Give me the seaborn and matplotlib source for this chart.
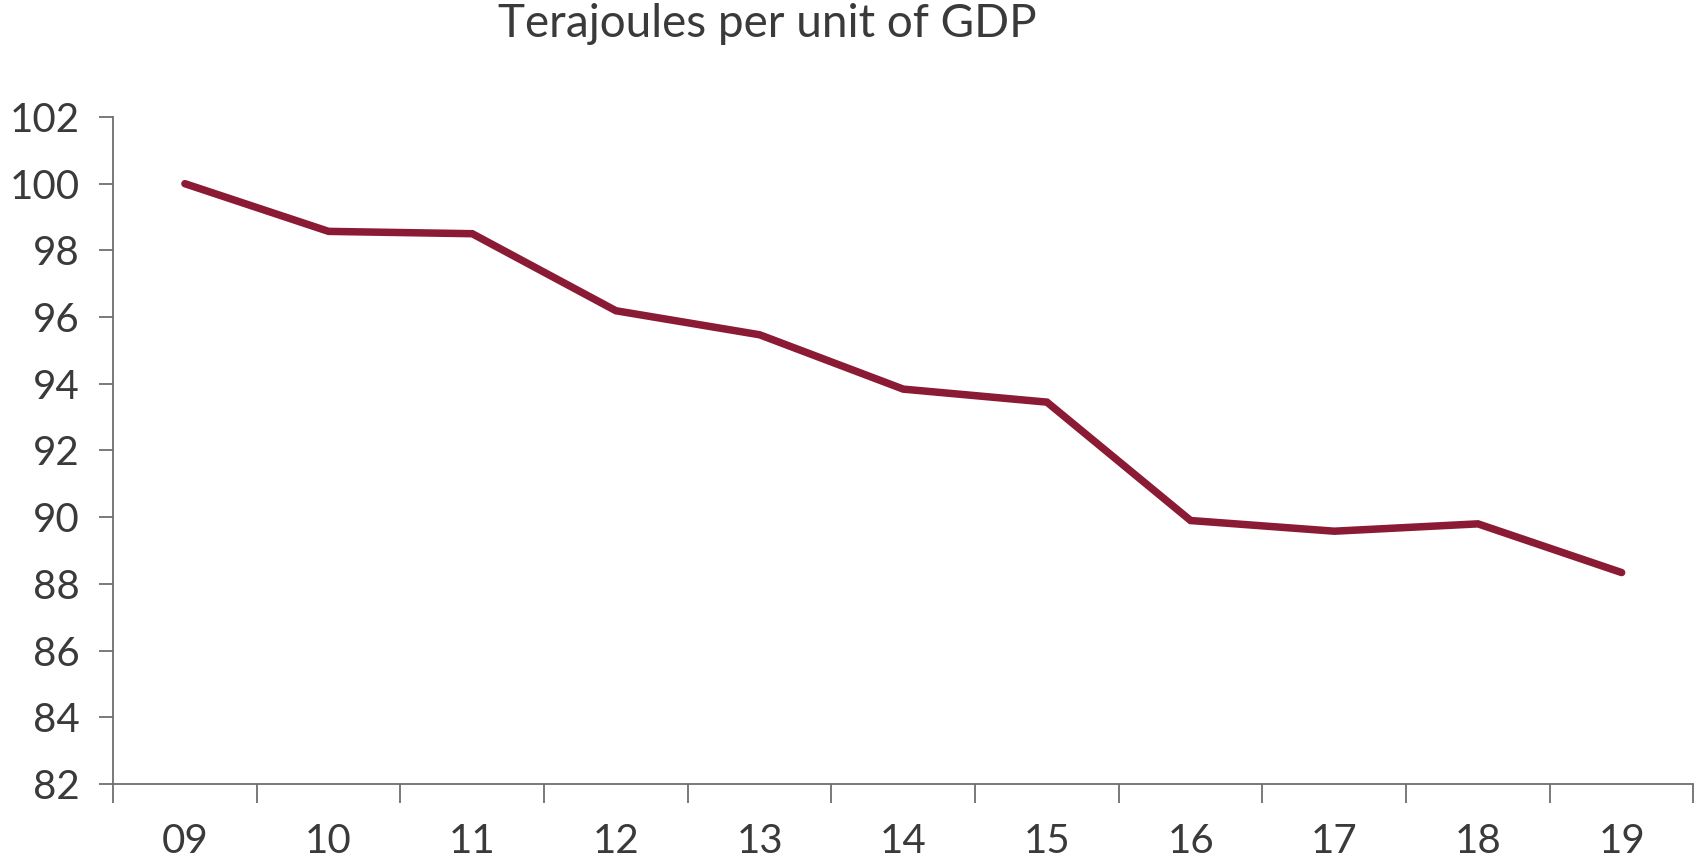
import numpy as np
import pandas as pd
import matplotlib
matplotlib.use("Agg")
import matplotlib.pyplot as plt
import seaborn as sns

years = ["09", "10", "11", "12", "13", "14", "15", "16", "17", "18", "19"]
values = [100.0, 98.57, 98.5, 96.19, 95.47, 93.84, 93.45, 89.9, 89.58, 89.8, 88.34]

title = "Terajoules per unit of GDP"
line_color = "#8B1A35"
text_color = "#3a3a3a"
axis_color = "#6e6e6e"

sns.set_style("white")
plt.rcParams["font.family"] = ["Lato", "DejaVu Sans"]

df = pd.DataFrame({"year": years, "value": values})
df["pos"] = np.arange(len(df))

fig = plt.figure(figsize=(17.03, 8.64), dpi=100)
ax = fig.add_axes([0.0664, 0.0926, 0.928, 0.772])

sns.lineplot(data=df, x="pos", y="value", ax=ax, color=line_color,
             linewidth=5.4, solid_capstyle="round", solid_joinstyle="miter")

ax.set_xlim(-0.5, len(years) - 0.5)
ax.set_ylim(82, 102)
ax.set_yticks(range(82, 103, 2))
ax.set_yticklabels([str(v) for v in range(82, 103, 2)])

# category axis: ticks between categories, labels centred
ax.set_xticks(np.arange(-0.5, len(years), 1.0))
ax.set_xticklabels([])
ax.set_xticks(df["pos"], minor=True)
ax.set_xticklabels(years, minor=True)
ax.tick_params(axis="x", which="major", bottom=True, length=14, width=1.3,
               color=axis_color, direction="out")
ax.tick_params(axis="x", which="minor", bottom=True, length=0, pad=28,
               labelsize=29, labelcolor=text_color)
ax.tick_params(axis="y", left=True, length=10, width=1.3, color=axis_color,
               direction="out", pad=14, labelsize=29, labelcolor=text_color)

for s in ["top", "right"]:
    ax.spines[s].set_visible(False)
for s in ["left", "bottom"]:
    ax.spines[s].set_color(axis_color)
    ax.spines[s].set_linewidth(1.3)

ax.set_xlabel("")
ax.set_ylabel("")
fig.text(0.4505, 0.972, title, ha="center", va="center", fontsize=33, color=text_color)

fig.savefig("out.png", dpi=100, facecolor="white")
